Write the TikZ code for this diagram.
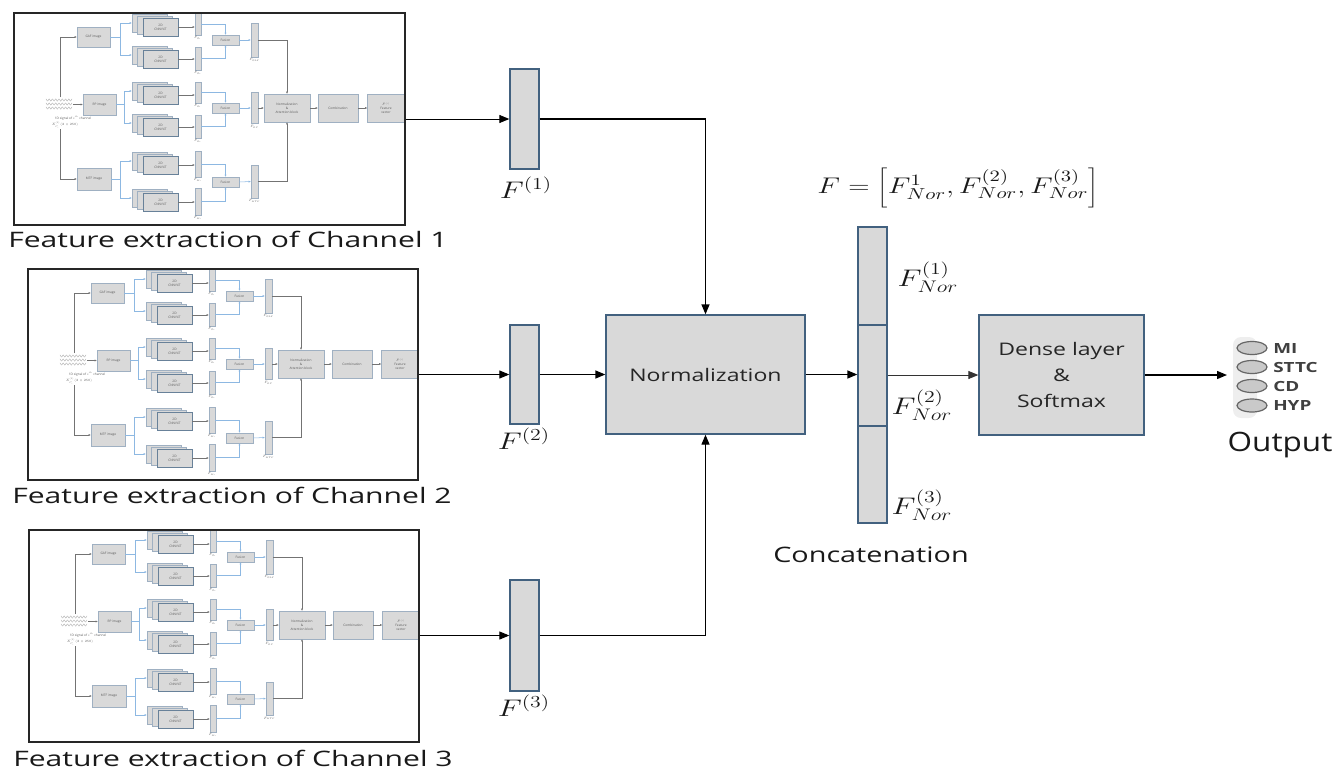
\RequirePackage{fix-cm}
\documentclass[tikz,border=0pt]{standalone}
\usepackage{fontspec}
\setmainfont{Open Sans}
\usepackage{graphicx}
\usetikzlibrary{arrows.meta,shapes.geometric,calc}
\definecolor{boxfill}{HTML}{D9D9D9}
\definecolor{boxedge}{HTML}{42617F}
\definecolor{tedge}{HTML}{9FB0C2}
\definecolor{tblue}{HTML}{8DB8E2}
\definecolor{tdark}{HTML}{5A5A5A}
\definecolor{ovfill}{HTML}{C9C9C9}
\definecolor{ovedge}{HTML}{666666}
\definecolor{labc}{HTML}{404040}
\newcommand\stx[2]{\scalebox{#1}[1]{#2}}
\tikzset{
  sz/.style 2 args={minimum width=#1*0.75pt, minimum height=#2*0.75pt},
  ttxt/.style={font=\fontsize{2.4}{2.9}\selectfont, text=tdark, inner sep=0, align=center},
  tbox/.style={draw=tedge, fill=boxfill, line width=0.3pt, inner sep=0, align=center,
    font=\fontsize{2.4}{2.9}\selectfont, text=tdark},
  tcnn/.style={tbox, draw=boxedge!80},
  tbar/.style={fill=boxfill, draw=tedge, line width=0.3pt, inner sep=0},
  tline/.style={draw=tdark!85, line width=0.35pt},
  tarr/.style={tline, -{Triangle[length=1.6pt,width=1.3pt]}},
  tbl/.style={draw=tblue, line width=0.4pt},
  tblA/.style={tbl, -{Triangle[length=1.6pt,width=1.3pt]}},
  fe/.style={draw=black!85, line width=1.1pt, inner sep=0},
  fbar/.style={fill=boxfill, draw=boxedge, line width=1pt, inner sep=0},
  bigbox/.style={fill=boxfill, draw=boxedge, line width=1pt, inner sep=0, align=center, text=black!85},
  arr/.style={-{Triangle[length=7.5pt,width=6pt]}, line width=0.9pt, black},
  captxt/.style={font=\fontsize{16}{19}\selectfont, text=black!90, inner sep=0},
  mlab/.style={font=\fontsize{18}{20}\selectfont, inner sep=0, text=black!90},
  oval/.style={ellipse, fill=ovfill, draw=ovedge, line width=0.9pt, inner sep=0},
  olab/.style={font=\fontsize{10.5}{12}\selectfont\bfseries, text=labc, inner sep=0, anchor=west},
  thumb/.pic={
    % 1D signal
    \node[inner sep=0, sz={28}{15}, fill=white] (-sig) at (45,91.5) {};
    \foreach \yy in {87,91,95}{
      \draw[gray!70, line width=0.25pt] plot[domain=32:58, samples=60] (\x,{\yy+1.1*sin(\x*110)});
    }
    \node[ttxt] (-st1) at (59,105) {1D signal of $i^{th}$ channel};
    \node[ttxt] (-st2) at (51,112) {$X^{(1)}_{C_i}(2\times250)$};
    \node[tbox, sz={33}{20}] (-gaf) at (79.5,24) {GAF image};
    \node[tbox, sz={33}{21}] (-rp) at (85.5,91.5) {RP image};
    \node[tbox, sz={34}{22}] (-mtf) at (80,166) {MTF image};
    \draw[tarr] (46,84) |- (-gaf.west);
    \draw[tarr] (46,116) |- (-mtf.west);
    \draw[tarr] (-sig.east) -- (-rp.west);
    % CNN stacks
    \foreach \i/\y in {1/14,2/46,3/82,4/114,5/152,6/189}{
      \node[tbox, sz={35}{18}] (-k\i) at (135.5,\y-4) {};
      \node[tbox, sz={35}{18}] (-m\i) at (141,\y-2) {};
      \node[tcnn, sz={35}{18}] (-c\i) at (146.5,\y) {2D\\CNN/ViT};
    }
    % branch lines
    \draw[tbl] (-gaf.east) -- (106,24);
    \draw[tblA] (106,24) |- (-k1.west);
    \draw[tblA] (106,24) |- (-k2.west);
    \draw[tbl] (-rp.east) -- (110,91.5);
    \draw[tblA] (110,91.5) |- (-k3.west);
    \draw[tblA] (110,91.5) |- (-k4.west);
    \draw[tbl] (-mtf.east) -- (106,166);
    \draw[tblA] (106,166) |- (-k5.west);
    \draw[tblA] (106,166) |- (-k6.west);
    % bars
    \foreach \i/\y/\h/\t in {1/11/22/G_1,2/45.5/23/G_2,3/79.5/21/R_1,4/113.5/23/R_2,5/151/26/M_1,6/188.5/27/M_2}{
      \node[tbar, sz={6}{\h}] (-b\i) at (184,\y) {};
      \draw[tarr] (-c\i.east) -- (-c\i.east -| -b\i.west);
      \node[ttxt, below=0.8pt] at (-b\i.south) {$F_{\t}$};
    }
    % fusion
    \node[tbox, sz={27}{10}] (-f1) at (211.5,27) {Fusion};
    \node[tbox, sz={27}{10}] (-f2) at (211.5,95) {Fusion};
    \node[tbox, sz={27}{10}] (-f3) at (211.5,169) {Fusion};
    \draw[tblA] (-b1.east) -| (-f1.north);
    \draw[tblA] (-b2.east) -| (-f1.south);
    \draw[tblA] (-b3.east) -| (-f2.north);
    \draw[tblA] (-b4.east) -| (-f2.south);
    \draw[tblA] (-b5.east) -| (-f3.north);
    \draw[tblA] (-b6.east) -| (-f3.south);
    % fused bars
    \node[tbar, sz={7}{34}] (-p1) at (240.5,27) {};
    \node[tbar, sz={7}{31}] (-p2) at (240.5,95) {};
    \node[tbar, sz={7}{33}] (-p3) at (240.5,168.5) {};
    \node[ttxt, below=1pt] at (-p1.south) {$F_{GAF}$};
    \node[ttxt, below=1pt] at (-p2.south) {$F_{RP}$};
    \node[ttxt, below=1pt] at (-p3.south) {$F_{MTF}$};
    \draw[tblA] (-f1.east) -- (-p1.west);
    \draw[tblA] (-f2.east) -- (-p2.west);
    \draw[tblA] (-f3.east) -- (-p3.west);
    % normalization / combination / feature vector
    \node[tbox, sz={46}{28}] (-nrm) at (273,95) {Normalization\\\&\\Attention block};
    \node[tbox, sz={40}{28}] (-cmb) at (324,95) {Combination};
    \node[tbox, sz={37}{28}] (-fv) at (372,95) {$F^{(i)}$\\Feature\\vector};
    \draw[tarr] (-p1.east) -| (-nrm.north);
    \draw[tarr] (-p2.east) -- (-nrm.west);
    \draw[tarr] (-p3.east) -| (-nrm.south);
    \draw[tarr] (-nrm.east) -- (-cmb.west);
    \draw[tarr] (-cmb.east) -- (-fv.west);
  }
}
\begin{document}
\begin{tikzpicture}[x=0.75pt,y=-0.75pt]
\useasboundingbox (0,0) rectangle (1338,772);
% thumbnails
\pic (t1) at (14,13) {thumb};
\pic (t2) at (28,269) {thumb};
\pic (t3) at (29,530) {thumb};
% feature-extraction boxes
\node[fe, sz={391}{212}] (box1) at (209.5,119) {};
\node[fe, sz={390}{211}] (box2) at (223,374.5) {};
\node[fe, sz={390}{212}] (box3) at (224,636) {};
\node[captxt, anchor=base west] (cap1) at (8,247) {\stx{1.41}{Feature extraction of Channel 1}};
\node[captxt, anchor=base west] (cap2) at (12,503) {\stx{1.41}{Feature extraction of Channel 2}};
\node[captxt, anchor=base west] (cap3) at (13,766) {\stx{1.41}{Feature extraction of Channel 3}};
% per-channel feature bars
\node[fbar, sz={29}{100}] (F1) at (524.5,119) {};
\node[fbar, sz={29}{99}] (F2) at (524.5,374.5) {};
\node[fbar, sz={29}{111}] (F3) at (524.5,635.5) {};
\node[mlab] (lF1) at (526,188) {\stx{1.3}{$F^{(1)}$}};
\node[mlab] (lF2) at (524,439) {\stx{1.3}{$F^{(2)}$}};
\node[mlab] (lF3) at (524,706) {\stx{1.3}{$F^{(3)}$}};
\draw[arr, line width=0.75pt] (box1.east |- F1.west) -- (F1.west);
\draw[arr, line width=0.75pt] (box2.east |- F2.west) -- (F2.west);
\draw[arr, line width=0.75pt] (box3.east |- F3.west) -- (F3.west);
% normalization
\node[bigbox, sz={199}{119}, font=\fontsize{13}{16}\selectfont] (norm) at (705.5,374.5) {\stx{1.33}{Normalization}};
\draw[arr, line width=1pt] (F1.east) -| (norm.north);
\draw[arr, line width=1pt] (F2.east) -- (norm.west);
\draw[arr, line width=1pt] (F3.east) -| (norm.south);
% concatenation
\node[fbar, sz={29}{98}] (c1) at (872.5,276) {};
\node[fbar, sz={29}{101}] (c2) at (872.5,375.5) {};
\node[fbar, sz={29}{97}] (c3) at (872.5,474.5) {};
\node[mlab] (lc1) at (928,277) {\stx{1.3}{$F^{(1)}_{Nor}$}};
\node[mlab] (lc2) at (922,405) {\stx{1.3}{$F^{(2)}_{Nor}$}};
\node[mlab] (lc3) at (922,505) {\stx{1.3}{$F^{(3)}_{Nor}$}};
\node[mlab, font=\fontsize{17}{20}\selectfont] (form) at (958,188) {\stx{1.3}{$F=\left[F^{1}_{Nor},F^{(2)}_{Nor},F^{(3)}_{Nor}\right]$}};
\node[captxt] (lconc) at (871,555) {\stx{1.35}{Concatenation}};
\draw[arr, line width=1pt] (norm.east) -- (norm.east -| c2.west);
% dense layer
\node[bigbox, sz={165}{120}, font=\fontsize{13}{19.5}\selectfont] (dense) at (1061.5,375) {\stx{1.33}{Dense layer}\\\stx{1.33}{\&}\\\stx{1.33}{Softmax}};
\draw[arr, line width=0.7pt, black!80] (c2.east |- dense.west) -- (dense.west);
% output
\node[fill=gray!13, rounded corners=6pt, sz={24}{81}, inner sep=0] (obg) at (1245,377.5) {};
\node[oval, sz={30}{13}] (o1) at (1252,348) {};
\node[oval, sz={30}{13}] (o2) at (1252,367) {};
\node[oval, sz={30}{13}] (o3) at (1252,386) {};
\node[oval, sz={30}{13}] (o4) at (1252,405.5) {};
\node[olab] (m1) at (1273,348) {\stx{1.35}{MI}};
\node[olab] (m2) at (1273,367) {\stx{1.35}{STTC}};
\node[olab] (m3) at (1273,386) {\stx{1.35}{CD}};
\node[olab] (m4) at (1273,405.5) {\stx{1.35}{HYP}};
\coordinate (oin) at (1227,375);
\draw[arr, line width=1pt] (dense.east) -- (oin);
\node[captxt, font=\fontsize{20}{24}\selectfont] (lout) at (1280,445) {\stx{1.18}{Output}};
\end{tikzpicture}
\end{document}
